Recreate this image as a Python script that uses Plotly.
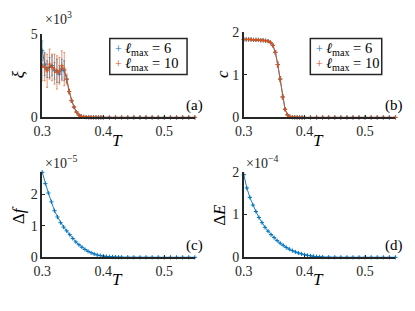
import plotly.graph_objects as go

W, H = 415, 311
BLUE = '#0072BD'
ORANGE = '#D95319'
AX = '#262626'
FONT = 'Liberation Serif'

# ---------------- data ----------------
T_ab = [0.300, 0.304, 0.308, 0.312, 0.316, 0.320, 0.324, 0.328, 0.332, 0.336,
        0.340, 0.344, 0.348, 0.352, 0.356, 0.360, 0.364, 0.368, 0.372, 0.376,
        0.380, 0.384, 0.388, 0.392, 0.396, 0.400,
        0.41, 0.42, 0.43, 0.44, 0.45, 0.46, 0.47, 0.48, 0.49, 0.50,
        0.51, 0.52, 0.53, 0.54, 0.55]

# xi in units of 1e3
xi_l6 = [4.0, 3.2, 2.9, 3.0, 3.1, 2.8, 2.8, 2.6, 2.9, 2.8,
         2.3, 1.55, 1.0, 0.62, 0.32, 0.14, 0.06, 0.03, 0.015, 0.01,
         0.006, 0.004, 0.003, 0.002, 0.0015, 0.001,
         0.001, 0.0008, 0.0006, 0.0005, 0.0004, 0.0003, 0.0003, 0.0002, 0.0002, 0.0002,
         0.0001, 0.0001, 0.0001, 0.0001, 0.0001]
xi_l6_err = [0.6, 0.7, 0.5, 0.6, 0.6, 0.5, 0.7, 0.5, 0.6, 0.6,
             0.2, 0.1, 0.06, 0.04, 0.02, 0.01, 0.0, 0.0, 0.0, 0.0,
             0, 0, 0, 0, 0, 0,
             0, 0, 0, 0, 0, 0, 0, 0, 0, 0, 0, 0, 0, 0, 0]
xi_l10 = [3.1, 3.0, 2.8, 3.2, 3.0, 2.9, 2.7, 2.8, 3.1, 2.9,
          2.3, 1.55, 1.0, 0.62, 0.32, 0.14, 0.06, 0.03, 0.015, 0.01,
          0.006, 0.004, 0.003, 0.002, 0.0015, 0.001,
          0.001, 0.0008, 0.0006, 0.0005, 0.0004, 0.0003, 0.0003, 0.0002, 0.0002, 0.0002,
          0.0001, 0.0001, 0.0001, 0.0001, 0.0001]
xi_l10_err = [0.9, 0.8, 1.0, 0.9, 0.8, 0.9, 1.0, 0.8, 0.9, 1.0,
              0.3, 0.15, 0.1, 0.05, 0.03, 0.02, 0.01, 0.0, 0.0, 0.0,
              0, 0, 0, 0, 0, 0,
              0, 0, 0, 0, 0, 0, 0, 0, 0, 0, 0, 0, 0, 0, 0]

c_l6 = [1.83, 1.83, 1.83, 1.83, 1.82, 1.82, 1.82, 1.81, 1.81, 1.80,
        1.79, 1.76, 1.69, 1.53, 1.24, 0.90, 0.48, 0.19, 0.06, 0.015,
        0.005, 0.002, 0.001, 0.0005, 0.0003, 0.0002,
        0.0001, 0.0001, 0.0001, 0.0001, 0.0001, 0.0001, 0.0001, 0.0001, 0.0001, 0.0001,
        0.0001, 0.0001, 0.0001, 0.0001, 0.0001]
c_l10 = list(c_l6)
c_err = [0.01, 0.01, 0.01, 0.01, 0.01, 0.01, 0.01, 0.01, 0.01, 0.01,
         0.01, 0.02, 0.03, 0.04, 0.06, 0.06, 0.05, 0.03, 0.01, 0.0,
         0, 0, 0, 0, 0, 0,
         0, 0, 0, 0, 0, 0, 0, 0, 0, 0, 0, 0, 0, 0, 0]

T_cd = [0.300, 0.305, 0.310, 0.315, 0.320, 0.325, 0.330, 0.335, 0.340, 0.345,
        0.350, 0.355, 0.360, 0.365, 0.370, 0.375, 0.380, 0.385, 0.390, 0.395,
        0.400, 0.405, 0.410, 0.415, 0.420, 0.425, 0.430,
        0.44, 0.45, 0.46, 0.47, 0.48, 0.49, 0.50, 0.51, 0.52, 0.53, 0.54, 0.55]

# Delta f in units of 1e-5
dF = [2.70, 2.34, 2.04, 1.76, 1.48, 1.28, 1.10, 0.96, 0.84, 0.72,
      0.60, 0.49, 0.40, 0.32, 0.25, 0.19, 0.145, 0.105, 0.075, 0.053,
      0.037, 0.025, 0.016, 0.010, 0.006, 0.004, 0.0025,
      0.0015, 0.001, 0.0006, 0.0004, 0.0003, 0.0002, 0.0001, 0.0001, 0.0001, 0.0, 0.0, 0.0]

# Delta E in units of 1e-4
dE = [1.93, 1.62, 1.40, 1.22, 1.07, 0.93, 0.81, 0.70, 0.61, 0.53,
      0.46, 0.39, 0.33, 0.28, 0.23, 0.19, 0.155, 0.125, 0.10, 0.08,
      0.06, 0.045, 0.033, 0.023, 0.015, 0.009, 0.005,
      0.003, 0.002, 0.001, 0.0006, 0.0004, 0.0002, 0.0001, 0.0001, 0.0, 0.0, 0.0, 0.0]

x_ticks = [0.3, 0.4, 0.5]
x_ticklabels = ['0.3', '0.4', '0.5']

# ---------------- figure ----------------
def px(x):
    return x / W

def py(y):
    return 1 - y / H

fig = go.Figure()


def series(x, y, color, xa, ya, err=None, errcolor=None):
    d = dict(x=x, y=y, mode='lines+markers', xaxis=xa, yaxis=ya,
             line=dict(color=color, width=0.9),
             marker=dict(symbol='cross-thin', size=3, color=color,
                         line=dict(width=1, color=color)),
             cliponaxis=False, showlegend=False, hoverinfo='skip')
    if err is not None:
        d['error_y'] = dict(type='data', array=err, color=errcolor,
                            thickness=1, width=1)
    fig.add_trace(go.Scatter(**d))


series(T_ab, xi_l6, BLUE, 'x', 'y', xi_l6_err, 'rgba(0,114,189,0.6)')
series(T_ab, xi_l10, ORANGE, 'x', 'y', xi_l10_err, 'rgba(217,83,25,0.6)')
series(T_ab, c_l6, BLUE, 'x2', 'y2', c_err, 'rgba(0,114,189,0.6)')
series(T_ab, c_l10, ORANGE, 'x2', 'y2', c_err, 'rgba(217,83,25,0.6)')
series(T_cd, dF, BLUE, 'x3', 'y3')
series(T_cd, dE, BLUE, 'x4', 'y4')

tickfont = dict(family=FONT, size=14, color=AX)


def xaxis(domain, anchor):
    return dict(domain=domain, anchor=anchor, range=[0.3, 0.55],
                tickvals=x_ticks, ticktext=x_ticklabels,
                ticks='inside', ticklen=3, tickwidth=1, tickcolor=AX,
                showline=True, linecolor=AX, linewidth=1.5,
                showgrid=False, zeroline=False, tickfont=tickfont)


def yaxis(domain, anchor, rng, tv):
    return dict(domain=domain, anchor=anchor, range=rng,
                tickvals=tv, ticktext=[str(v) for v in tv],
                ticks='inside', ticklen=3, tickwidth=1, tickcolor=AX,
                showline=True, linecolor=AX, linewidth=1.5,
                showgrid=False, zeroline=False, tickfont=tickfont)


xl = [px(34), px(190)]
xr = [px(240), px(395)]
fig.update_layout(
    width=W, height=H,
    margin=dict(l=0, r=0, t=0, b=0),
    paper_bgcolor='white', plot_bgcolor='white',
    xaxis=xaxis(xl, 'y'),
    yaxis=yaxis([py(116), py(28.5)], 'x', [0, 5], [0, 5]),
    xaxis2=xaxis(xr, 'y2'),
    yaxis2=yaxis([py(116), py(26.5)], 'x2', [0, 2], [0, 1, 2]),
    xaxis3=xaxis(xl, 'y3'),
    yaxis3=yaxis([py(263), py(173)], 'x3', [0, 2.72], [0, 1, 2]),
    xaxis4=xaxis(xr, 'y4'),
    yaxis4=yaxis([py(263), py(173)], 'x4', [0, 2], [0, 1, 2]),
)

ann = []


def text(x, y, s, size=15, angle=0, xanchor='center', color='black'):
    ann.append(dict(x=px(x), y=py(y), xref='paper', yref='paper', text=s,
                    showarrow=False, xanchor=xanchor, yanchor='middle',
                    textangle=angle,
                    font=dict(family=FONT, size=size, color=color)))


# axis labels
text(111, 140, '<i>T</i>', 17)
text(316, 140, '<i>T</i>', 17)
text(111, 286, '<i>T</i>', 17)
text(316, 286, '<i>T</i>', 17)
text(10, 71, '<i>ξ</i>', 17, -90)
text(218, 70, '<i>c</i>', 17, -90)
text(10, 219, 'Δ<i>f</i>', 17, -90)
text(215, 218, 'Δ<i>E</i>', 17, -90)

# exponent labels
text(35, 12, '×10<sup>3</sup>', 14, xanchor='left', color=AX)
text(35, 163, '×10<sup>−5</sup>', 14, xanchor='left', color=AX)
text(240, 163, '×10<sup>−4</sup>', 14, xanchor='left', color=AX)

# panel letters
text(200, 103, '(a)', 15, xanchor='right')
text(405, 103, '(b)', 15, xanchor='right')
text(200, 251, '(c)', 15, xanchor='right')
text(405, 251, '(d)', 15, xanchor='right')

# legends
legend_labels = ['<i>ℓ</i><sub>max</sub> = 6', '<i>ℓ</i><sub>max</sub> = 10']
legend_colors = [BLUE, ORANGE]
shapes = []
for x0, x1 in [(103, 182), (308, 381)]:
    shapes.append(dict(type='rect', xref='paper', yref='paper',
                       x0=px(x0), x1=px(x1), y0=py(71), y1=py(33),
                       line=dict(color=AX, width=1.5), fillcolor='white',
                       layer='above'))
    for i, (lab, col) in enumerate(zip(legend_labels, legend_colors)):
        yy = 44 + i * 16
        text(x0 + 9, yy, '+', 12, color=col)
        text(x0 + 14, yy, lab, 14.5, xanchor='left')

fig.update_layout(annotations=ann, shapes=shapes)
fig.write_html('out.html',
               config={'displayModeBar': False},
               post_script="document.body.style.margin='0px';"
                           "document.body.style.overflow='hidden';")
